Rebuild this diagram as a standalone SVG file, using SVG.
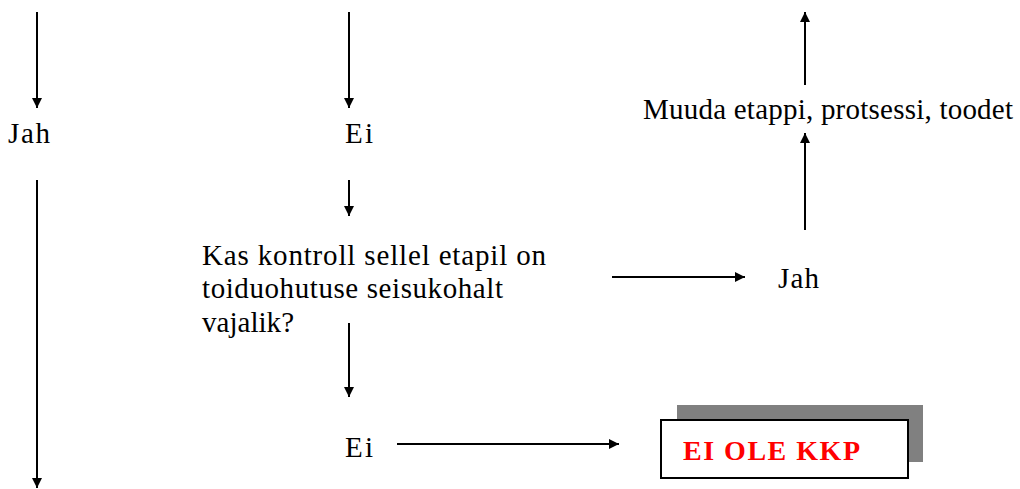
<svg xmlns="http://www.w3.org/2000/svg" width="1020" height="489" viewBox="0 0 1020 489">
  <defs>
    <marker id="arrow" viewBox="0 0 10 10" refX="10" refY="5" markerWidth="11" markerHeight="10" markerUnits="userSpaceOnUse" orient="auto">
      <path d="M0,0 L10,5 L0,10 z" fill="#000"/>
    </marker>
    <style>
      .lbl { font-family: 'Liberation Serif', 'Times New Roman', serif; font-size: 29px; fill: #000; }
      .kkp { font-family: 'Liberation Serif', 'Times New Roman', serif; font-size: 28px; font-weight: bold; fill: #ff0000; }
      .conn line { stroke: #000; stroke-width: 2; marker-end: url(#arrow); }
    </style>
  </defs>
  <rect width="1020" height="489" fill="#fff"/>

  <!-- flow arrows -->
  <g id="connectors" class="conn">
    <line x1="37" y1="12" x2="37" y2="108"/>
    <line x1="37" y1="180" x2="37" y2="488"/>
    <line x1="349" y1="12" x2="349" y2="108"/>
    <line x1="349" y1="180" x2="349" y2="216"/>
    <line x1="349" y1="323" x2="349" y2="397"/>
    <line x1="612" y1="277" x2="745" y2="277"/>
    <line x1="397" y1="444" x2="619" y2="444"/>
    <line x1="805" y1="230" x2="805" y2="133"/>
    <line x1="805" y1="85" x2="805" y2="12"/>
  </g>

  <g id="jah-left">
    <text class="lbl" x="8" y="143" textLength="42" lengthAdjust="spacing">Jah</text>
  </g>
  <g id="ei-top">
    <text class="lbl" x="345" y="143" textLength="28" lengthAdjust="spacing">Ei</text>
  </g>
  <g id="question">
    <text class="lbl" x="202" y="265" textLength="344" lengthAdjust="spacing">Kas kontroll sellel etapil on</text>
    <text class="lbl" x="202" y="298" textLength="301" lengthAdjust="spacing">toiduohutuse seisukohalt</text>
    <text class="lbl" x="202" y="332" textLength="92" lengthAdjust="spacing">vajalik?</text>
  </g>
  <g id="jah-right">
    <text class="lbl" x="778" y="288" textLength="41" lengthAdjust="spacing">Jah</text>
  </g>
  <g id="change">
    <text class="lbl" x="643" y="119" textLength="370" lengthAdjust="spacing">Muuda etappi, protsessi, toodet</text>
  </g>
  <g id="ei-bottom">
    <text class="lbl" x="345" y="457" textLength="28" lengthAdjust="spacing">Ei</text>
  </g>
  <!-- result box with offset grey shadow -->
  <g id="not-ccp">
    <rect x="677" y="405" width="246" height="57" fill="#808080"/>
    <rect x="661" y="420" width="247" height="58" fill="#fff" stroke="#000" stroke-width="2"/>
    <text class="kkp" x="683" y="460" textLength="177" lengthAdjust="spacing">EI OLE KKP</text>
  </g>
</svg>
